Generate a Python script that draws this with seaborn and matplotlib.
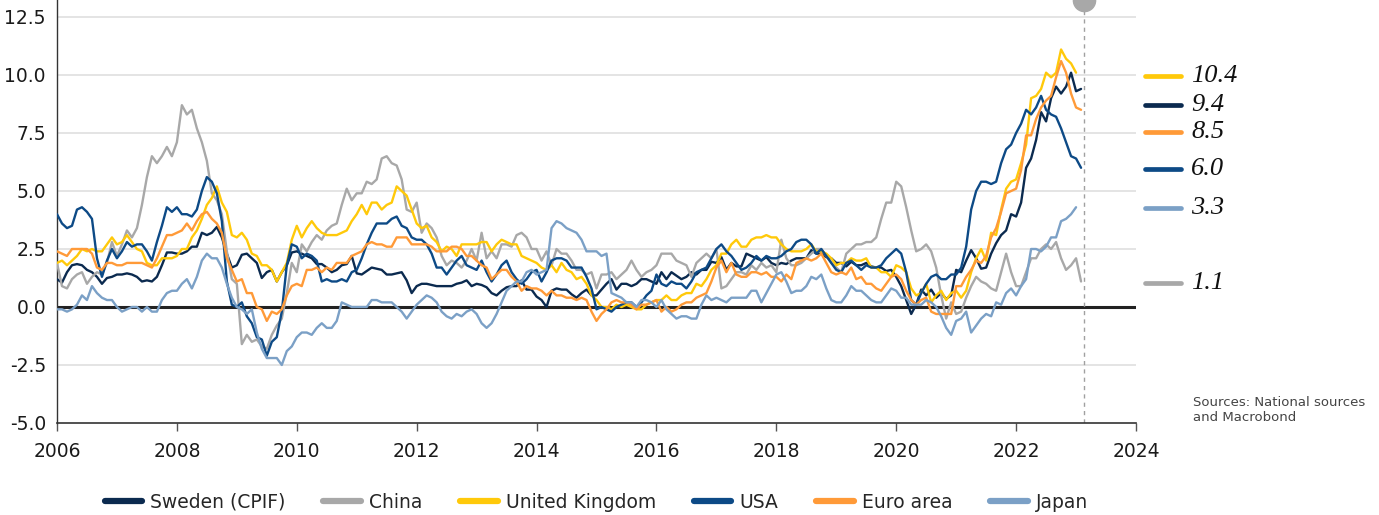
import numpy as np
import pandas as pd
import matplotlib
matplotlib.use("Agg")
import matplotlib.pyplot as plt
from matplotlib.lines import Line2D
import seaborn as sns

# ---------------- data (monthly YoY inflation, %, from Jan 2006) ----------------
series_names = ["Sweden (CPIF)", "China", "United Kingdom", "USA", "Euro area", "Japan"]

sweden = [
    1.2, 1.05, 1.5, 1.8, 1.85, 1.8, 1.6, 1.5, 1.3, 1.0, 1.25, 1.3,
    1.4, 1.4, 1.45, 1.4, 1.3, 1.1, 1.15, 1.1, 1.3, 1.8, 2.35, 2.35,
    2.3, 2.3, 2.4, 2.6, 2.6, 3.2, 3.1, 3.2, 3.45, 3.0, 2.3, 1.7,
    1.8, 2.25, 2.3, 2.1, 1.9, 1.25, 1.5, 1.6, 1.1, 1.5, 1.8, 2.35,
    2.4, 2.3, 2.2, 2.1, 1.85, 1.85, 1.7, 1.5, 1.6, 1.8, 1.85, 2.2,
    1.45, 1.4, 1.55, 1.7, 1.65, 1.6, 1.4, 1.4, 1.45, 1.5, 1.15, 0.6,
    0.9, 1.0, 1.0, 0.95, 0.9, 0.9, 0.9, 0.9, 1.0, 1.05, 1.15, 0.9,
    1.0, 0.95, 0.85, 0.6, 0.5, 0.7, 0.85, 0.9, 0.9, 1.15, 0.75, 0.75,
    0.45, 0.3, 0.0, 0.7, 0.8, 0.75, 0.75, 0.55, 0.4, 0.6, 0.75, 0.5,
    0.5, 0.75, 1.0, 1.2, 0.75, 1.0, 1.0, 0.9, 1.0, 1.2, 1.2, 1.1,
    1.0, 1.5, 1.2, 1.5, 1.35, 1.2, 1.3, 1.5, 1.4, 1.6, 1.6, 1.95,
    1.9, 2.15, 1.6, 1.9, 1.75, 1.75, 2.3, 2.2, 2.1, 2.0, 2.15, 1.9,
    1.8, 1.9, 1.85, 2.0, 2.1, 2.1, 2.1, 2.45, 2.3, 2.3, 2.15, 2.1,
    1.9, 1.9, 1.75, 1.95, 1.8, 1.8, 1.9, 1.75, 1.7, 1.7, 1.55, 1.6,
    1.3, 0.9, 0.3, -0.3, 0.1, 0.75, 0.5, 0.75, 0.4, 0.6, 0.35, 0.5,
    1.6, 1.5, 2.0, 2.45, 2.1, 1.65, 1.7, 2.3, 2.75, 3.1, 3.3, 4.0,
    3.9, 4.5, 6.0, 6.4, 7.2, 8.4, 8.0, 9.0, 9.5, 9.2, 9.5, 10.1,
    9.3, 9.4,
]

china = [
    1.9, 0.9, 0.8, 1.2, 1.4, 1.5, 1.0, 1.3, 1.5, 1.4, 1.9, 2.8,
    2.2, 2.7, 3.3, 3.0, 3.4, 4.4, 5.6, 6.5, 6.2, 6.5, 6.9, 6.5,
    7.1, 8.7, 8.3, 8.5, 7.7, 7.1, 6.3, 4.9, 4.6, 4.0, 2.4, 1.2,
    1.0, -1.6, -1.2, -1.5, -1.4, -1.7, -1.8, -1.2, -0.8, -0.5, 0.6, 1.9,
    1.5, 2.7, 2.4, 2.8, 3.1, 2.9, 3.3, 3.5, 3.6, 4.4, 5.1, 4.6,
    4.9, 4.9, 5.4, 5.3, 5.5, 6.4, 6.5, 6.2, 6.1, 5.5, 4.2, 4.1,
    4.5, 3.2, 3.6, 3.4, 3.0, 2.2, 1.8, 2.0, 1.9, 1.7, 2.0, 2.5,
    2.0, 3.2, 2.1, 2.4, 2.1, 2.7, 2.7, 2.6, 3.1, 3.2, 3.0, 2.5,
    2.5, 2.0, 2.4, 1.8, 2.5, 2.3, 2.3, 2.0, 1.6, 1.6, 1.4, 1.5,
    0.8, 1.4, 1.4, 1.5, 1.2, 1.4, 1.6, 2.0, 1.6, 1.3, 1.5, 1.6,
    1.8, 2.3, 2.3, 2.3, 2.0, 1.9, 1.8, 1.3, 1.9, 2.1, 2.3, 2.1,
    2.5, 0.8, 0.9, 1.2, 1.5, 1.5, 1.4, 1.8, 1.6, 1.9, 1.7, 1.8,
    1.5, 2.9, 2.1, 1.8, 1.8, 1.9, 2.1, 2.3, 2.5, 2.5, 2.2, 1.9,
    1.7, 1.5, 2.3, 2.5, 2.7, 2.7, 2.8, 2.8, 3.0, 3.8, 4.5, 4.5,
    5.4, 5.2, 4.3, 3.3, 2.4, 2.5, 2.7, 2.4, 1.7, 0.5, -0.5, 0.2,
    -0.3, -0.2, 0.4, 0.9, 1.3, 1.1, 1.0, 0.8, 0.7, 1.5, 2.3, 1.5,
    0.9, 0.9, 1.5, 2.1, 2.1, 2.5, 2.7, 2.5, 2.8, 2.1, 1.6, 1.8,
    2.1, 1.1,
]

uk = [
    1.9, 2.0, 1.8, 2.0, 2.2, 2.5, 2.4, 2.5, 2.4, 2.4, 2.7, 3.0,
    2.7, 2.8, 3.1, 2.8, 2.5, 2.4, 1.9, 1.8, 1.8, 2.1, 2.1, 2.1,
    2.2, 2.5, 2.5, 3.0, 3.3, 3.8, 4.4, 4.7, 5.2, 4.5, 4.1, 3.1,
    3.0, 3.2, 2.9, 2.3, 2.2, 1.8, 1.8, 1.6, 1.1, 1.5, 1.9, 2.9,
    3.5, 3.0, 3.4, 3.7, 3.4, 3.2, 3.1, 3.1, 3.1, 3.2, 3.3, 3.7,
    4.0, 4.4, 4.0, 4.5, 4.5, 4.2, 4.4, 4.5, 5.2, 5.0, 4.8, 4.2,
    3.6, 3.4, 3.5, 3.0, 2.8, 2.4, 2.6, 2.5, 2.2, 2.7, 2.7, 2.7,
    2.7, 2.8, 2.8, 2.4, 2.7, 2.9, 2.8, 2.7, 2.7, 2.2, 2.1, 2.0,
    1.9, 1.7, 1.6, 1.8, 1.5, 1.9, 1.6, 1.5, 1.2, 1.3, 1.0, 0.5,
    0.3, 0.0, 0.0, -0.1, 0.1, 0.0, 0.1, 0.0, -0.1, -0.1, 0.1, 0.2,
    0.3, 0.3, 0.5, 0.3, 0.3, 0.5, 0.6, 0.6, 1.0, 0.9, 1.2, 1.6,
    1.8, 2.3, 2.3, 2.7, 2.9, 2.6, 2.6, 2.9, 3.0, 3.0, 3.1, 3.0,
    3.0, 2.7, 2.5, 2.4, 2.4, 2.4, 2.5, 2.7, 2.4, 2.4, 2.3, 2.1,
    1.8, 1.9, 1.9, 2.1, 2.0, 2.0, 2.1, 1.7, 1.7, 1.5, 1.5, 1.3,
    1.8, 1.7, 1.5, 0.8, 0.5, 0.6, 1.0, 0.2, 0.5, 0.7, 0.3, 0.6,
    0.7, 0.4, 0.7, 1.5, 2.1, 2.5, 2.0, 3.2, 3.1, 4.2, 5.1, 5.4,
    5.5, 6.2, 7.0, 9.0, 9.1, 9.4, 10.1, 9.9, 10.1, 11.1, 10.7, 10.5,
    10.1,
]

usa = [
    4.0, 3.6, 3.4, 3.5, 4.2, 4.3, 4.1, 3.8, 2.1, 1.3, 2.0, 2.5,
    2.1, 2.4, 2.8, 2.6, 2.7, 2.7, 2.4, 2.0, 2.8, 3.5, 4.3, 4.1,
    4.3, 4.0, 4.0, 3.9, 4.2, 5.0, 5.6, 5.4, 4.9, 3.7, 1.1, 0.1,
    0.0, 0.2, -0.4, -0.7, -1.3, -1.4, -2.1, -1.5, -1.3, -0.2, 1.8, 2.7,
    2.6, 2.1, 2.3, 2.2, 2.0, 1.1, 1.2, 1.1, 1.1, 1.2, 1.1, 1.5,
    1.6, 2.1, 2.7, 3.2, 3.6, 3.6, 3.6, 3.8, 3.9, 3.5, 3.4, 3.0,
    2.9, 2.9, 2.7, 2.3, 1.7, 1.7, 1.4, 1.7, 2.0, 2.2, 1.8, 1.7,
    1.6, 2.0, 1.5, 1.1, 1.4, 1.8, 2.0, 1.5, 1.2, 1.0, 1.2, 1.5,
    1.6, 1.1, 1.5, 2.0, 2.1, 2.1, 2.0, 1.7, 1.7, 1.7, 1.3, 0.8,
    -0.1, 0.0, -0.1, -0.2, 0.0, 0.1, 0.2, 0.2, 0.0, 0.2, 0.5, 0.7,
    1.4, 1.0, 0.9, 1.1, 1.0, 1.0, 0.8, 1.1, 1.5, 1.6, 1.7, 2.1,
    2.5, 2.7, 2.4, 2.2, 1.9, 1.6, 1.7, 1.9, 2.2, 2.0, 2.2, 2.1,
    2.1, 2.2, 2.4, 2.5, 2.8, 2.9, 2.9, 2.7, 2.3, 2.5, 2.2, 1.9,
    1.6, 1.5, 1.9, 2.0, 1.8, 1.6, 1.8, 1.7, 1.7, 1.8, 2.1, 2.3,
    2.5, 2.3, 1.5, 0.3, 0.1, 0.6, 1.0, 1.3, 1.4, 1.2, 1.2, 1.4,
    1.4, 1.7, 2.6, 4.2, 5.0, 5.4, 5.4, 5.3, 5.4, 6.2, 6.8, 7.0,
    7.5, 7.9, 8.5, 8.3, 8.6, 9.1, 8.5, 8.3, 8.2, 7.7, 7.1, 6.5,
    6.4, 6.0,
]

euro = [
    2.4, 2.3, 2.2, 2.5, 2.5, 2.5, 2.5, 2.3, 1.7, 1.6, 1.9, 1.9,
    1.8, 1.8, 1.9, 1.9, 1.9, 1.9, 1.8, 1.7, 2.1, 2.6, 3.1, 3.1,
    3.2, 3.3, 3.6, 3.3, 3.7, 4.0, 4.1, 3.8, 3.6, 3.2, 2.1, 1.6,
    1.1, 1.2, 0.6, 0.6, 0.0, -0.1, -0.6, -0.2, -0.3, -0.1, 0.5, 0.9,
    1.0, 0.9, 1.6, 1.6, 1.7, 1.5, 1.7, 1.6, 1.9, 1.9, 1.9, 2.2,
    2.3, 2.4, 2.7, 2.8, 2.7, 2.7, 2.6, 2.6, 3.0, 3.0, 3.0, 2.7,
    2.7, 2.7, 2.7, 2.6, 2.4, 2.4, 2.4, 2.6, 2.6, 2.5, 2.2, 2.2,
    2.0, 1.8, 1.7, 1.2, 1.4, 1.6, 1.6, 1.3, 1.1, 0.7, 0.9, 0.8,
    0.8, 0.7, 0.5, 0.7, 0.5, 0.5, 0.4, 0.4, 0.3, 0.4, 0.3, -0.2,
    -0.6, -0.3, -0.1, 0.2, 0.3, 0.2, 0.2, 0.1, -0.1, 0.1, 0.1, 0.2,
    0.3, -0.2, 0.0, -0.2, -0.1, 0.1, 0.2, 0.2, 0.4, 0.5, 0.6, 1.1,
    1.7, 2.0, 1.5, 1.9, 1.4, 1.3, 1.3, 1.5, 1.5, 1.4, 1.5, 1.3,
    1.3, 1.1, 1.4, 1.2, 1.9, 2.0, 2.1, 2.0, 2.1, 2.3, 1.9, 1.5,
    1.4, 1.5, 1.4, 1.7, 1.2, 1.3, 1.0, 1.0, 0.8, 0.7, 1.0, 1.3,
    1.4, 1.2, 0.7, 0.3, 0.1, 0.3, 0.4, -0.2, -0.3, -0.3, -0.3, -0.3,
    0.9, 0.9, 1.3, 1.6, 2.0, 1.9, 2.2, 3.0, 3.4, 4.1, 4.9, 5.0,
    5.1, 5.9, 7.4, 7.4, 8.1, 8.6, 8.9, 9.1, 9.9, 10.6, 10.1, 9.2,
    8.6, 8.5,
]

japan = [
    -0.1, -0.1, -0.2, -0.1, 0.1, 0.5, 0.3, 0.9, 0.6, 0.4, 0.3, 0.3,
    0.0, -0.2, -0.1, 0.0, 0.0, -0.2, 0.0, -0.2, -0.2, 0.3, 0.6, 0.7,
    0.7, 1.0, 1.2, 0.8, 1.3, 2.0, 2.3, 2.1, 2.1, 1.7, 1.0, 0.4,
    0.0, -0.1, -0.3, -0.1, -1.1, -1.8, -2.2, -2.2, -2.2, -2.5, -1.9, -1.7,
    -1.3, -1.1, -1.1, -1.2, -0.9, -0.7, -0.9, -0.9, -0.6, 0.2, 0.1, 0.0,
    0.0, 0.0, 0.0, 0.3, 0.3, 0.2, 0.2, 0.2, 0.0, -0.2, -0.5, -0.2,
    0.1, 0.3, 0.5, 0.4, 0.2, -0.2, -0.4, -0.5, -0.3, -0.4, -0.2, -0.1,
    -0.3, -0.7, -0.9, -0.7, -0.3, 0.2, 0.7, 0.9, 1.1, 1.1, 1.5, 1.6,
    1.4, 1.5, 1.6, 3.4, 3.7, 3.6, 3.4, 3.3, 3.2, 2.9, 2.4, 2.4,
    2.4, 2.2, 2.3, 0.6, 0.5, 0.4, 0.2, 0.2, 0.0, 0.3, 0.3, 0.2,
    0.0, 0.3, -0.1, -0.3, -0.5, -0.4, -0.4, -0.5, -0.5, 0.1, 0.5, 0.3,
    0.4, 0.3, 0.2, 0.4, 0.4, 0.4, 0.4, 0.7, 0.7, 0.2, 0.6, 1.0,
    1.4, 1.5, 1.1, 0.6, 0.7, 0.7, 0.9, 1.3, 1.2, 1.4, 0.8, 0.3,
    0.2, 0.2, 0.5, 0.9, 0.7, 0.7, 0.5, 0.3, 0.2, 0.2, 0.5, 0.8,
    0.7, 0.4, 0.4, 0.1, 0.1, 0.1, 0.3, 0.2, 0.0, -0.4, -0.9, -1.2,
    -0.6, -0.5, -0.2, -1.1, -0.8, -0.5, -0.3, -0.4, 0.2, 0.1, 0.6, 0.8,
    0.5, 0.9, 1.2, 2.5, 2.5, 2.4, 2.6, 3.0, 3.0, 3.7, 3.8, 4.0,
    4.3,
]

# latest readings shown at the right edge
latest_labels = ["10.4", "9.4", "8.5", "6.0", "3.3", "1.1"]
latest_series = ["United Kingdom", "Sweden (CPIF)", "Euro area", "USA", "Japan", "China"]
label_ypos = [9.96, 8.71, 7.54, 5.95, 4.27, 1.03]   # de-overlapped layout positions

year_ticks = list(range(2006, 2025, 2))
y_ticks = [-5.0, -2.5, 0.0, 2.5, 5.0, 7.5, 10.0, 12.5]
source_text = "Sources: National sources\nand Macrobond"

colors = {
    "Sweden (CPIF)": "#0b2a4f",
    "China": "#a8a8a8",
    "United Kingdom": "#ffc90a",
    "USA": "#0d4a86",
    "Euro area": "#ff9a38",
    "Japan": "#7ba0c6",
}

# ---------------- build long frame ----------------
values = {"Sweden (CPIF)": sweden, "China": china, "United Kingdom": uk,
          "USA": usa, "Euro area": euro, "Japan": japan}
frames = []
for name in series_names:
    v = values[name]
    t = 2006 + np.arange(len(v)) / 12.0
    frames.append(pd.DataFrame({"t": t, "value": v, "series": name}))
df = pd.concat(frames, ignore_index=True)

# ---------------- plot ----------------
sns.set_theme(style="white")
plt.rcParams["font.family"] = ["DejaVu Sans"]

fig = plt.figure(figsize=(13.79, 5.15), dpi=100)
ax = fig.add_axes([57 / 1379, 92 / 515, (1136 - 57) / 1379, 423 / 515])

ytop = 12.5 + 17 / 23.2
ax.set_xlim(2006, 2024)
ax.set_ylim(-5, ytop)

for yv in y_ticks:
    if yv not in (0.0, -5.0):
        ax.axhline(yv, color="#e2e2e2", lw=1.3, zorder=0)
ax.axhline(0, color="#222222", lw=2.2, zorder=1)

sns.lineplot(data=df, x="t", y="value", hue="series", hue_order=series_names,
             palette=colors, linewidth=1.7, legend=False, ax=ax, zorder=3)

last_t = 2023.13
ax.axvline(last_t, color="#a0a0a0", lw=1.0, ls=(0, (3, 3)), zorder=2)
ax.plot([last_t], [ytop], "o", ms=16, color="#a8a8a8", clip_on=False, zorder=5)

ax.set_xticks(year_ticks)
ax.set_xticklabels([str(y) for y in year_ticks])
ax.set_yticks(y_ticks)
ax.set_yticklabels([f"{y:.1f}" for y in y_ticks])
ax.tick_params(axis="x", direction="out", length=6, width=1, color="#555555",
               labelsize=13.5, pad=8, labelcolor="#1a1a1a", bottom=True)
ax.tick_params(axis="y", length=0, labelsize=13.5, pad=8, labelcolor="#1a1a1a", left=True)
ax.set_xlabel("")
ax.set_ylabel("")
ax.grid(False)
for s in ["top", "right"]:
    ax.spines[s].set_visible(False)
ax.spines["left"].set_color("#333333")
ax.spines["left"].set_linewidth(1.0)
ax.spines["bottom"].set_color("#333333")
ax.spines["bottom"].set_linewidth(1.2)

# right-hand value labels
for name, lab, yp in zip(latest_series, latest_labels, label_ypos):
    ax.plot([2024.15, 2024.75], [yp, yp], color=colors[name], lw=3.4,
            solid_capstyle="round", clip_on=False)
    ax.text(2024.92, yp, lab, fontsize=19, family="Liberation Serif",
            style="italic", va="center", ha="left", color="#111111")

fig.text(1193 / 1379, 1 - 410 / 515, source_text, fontsize=9.5, color="#444444",
         va="center", ha="left", linespacing=1.15)

handles = [Line2D([0], [0], color=colors[n], lw=4.5, solid_capstyle="round")
           for n in series_names]
fig.legend(handles, series_names, loc="center", bbox_to_anchor=(596.5 / 1379, 1 - 502 / 515),
           ncol=6, frameon=False, fontsize=13.5, handlelength=2.0, handletextpad=0.45,
           columnspacing=2.0)

fig.savefig("out.png", dpi=100)
